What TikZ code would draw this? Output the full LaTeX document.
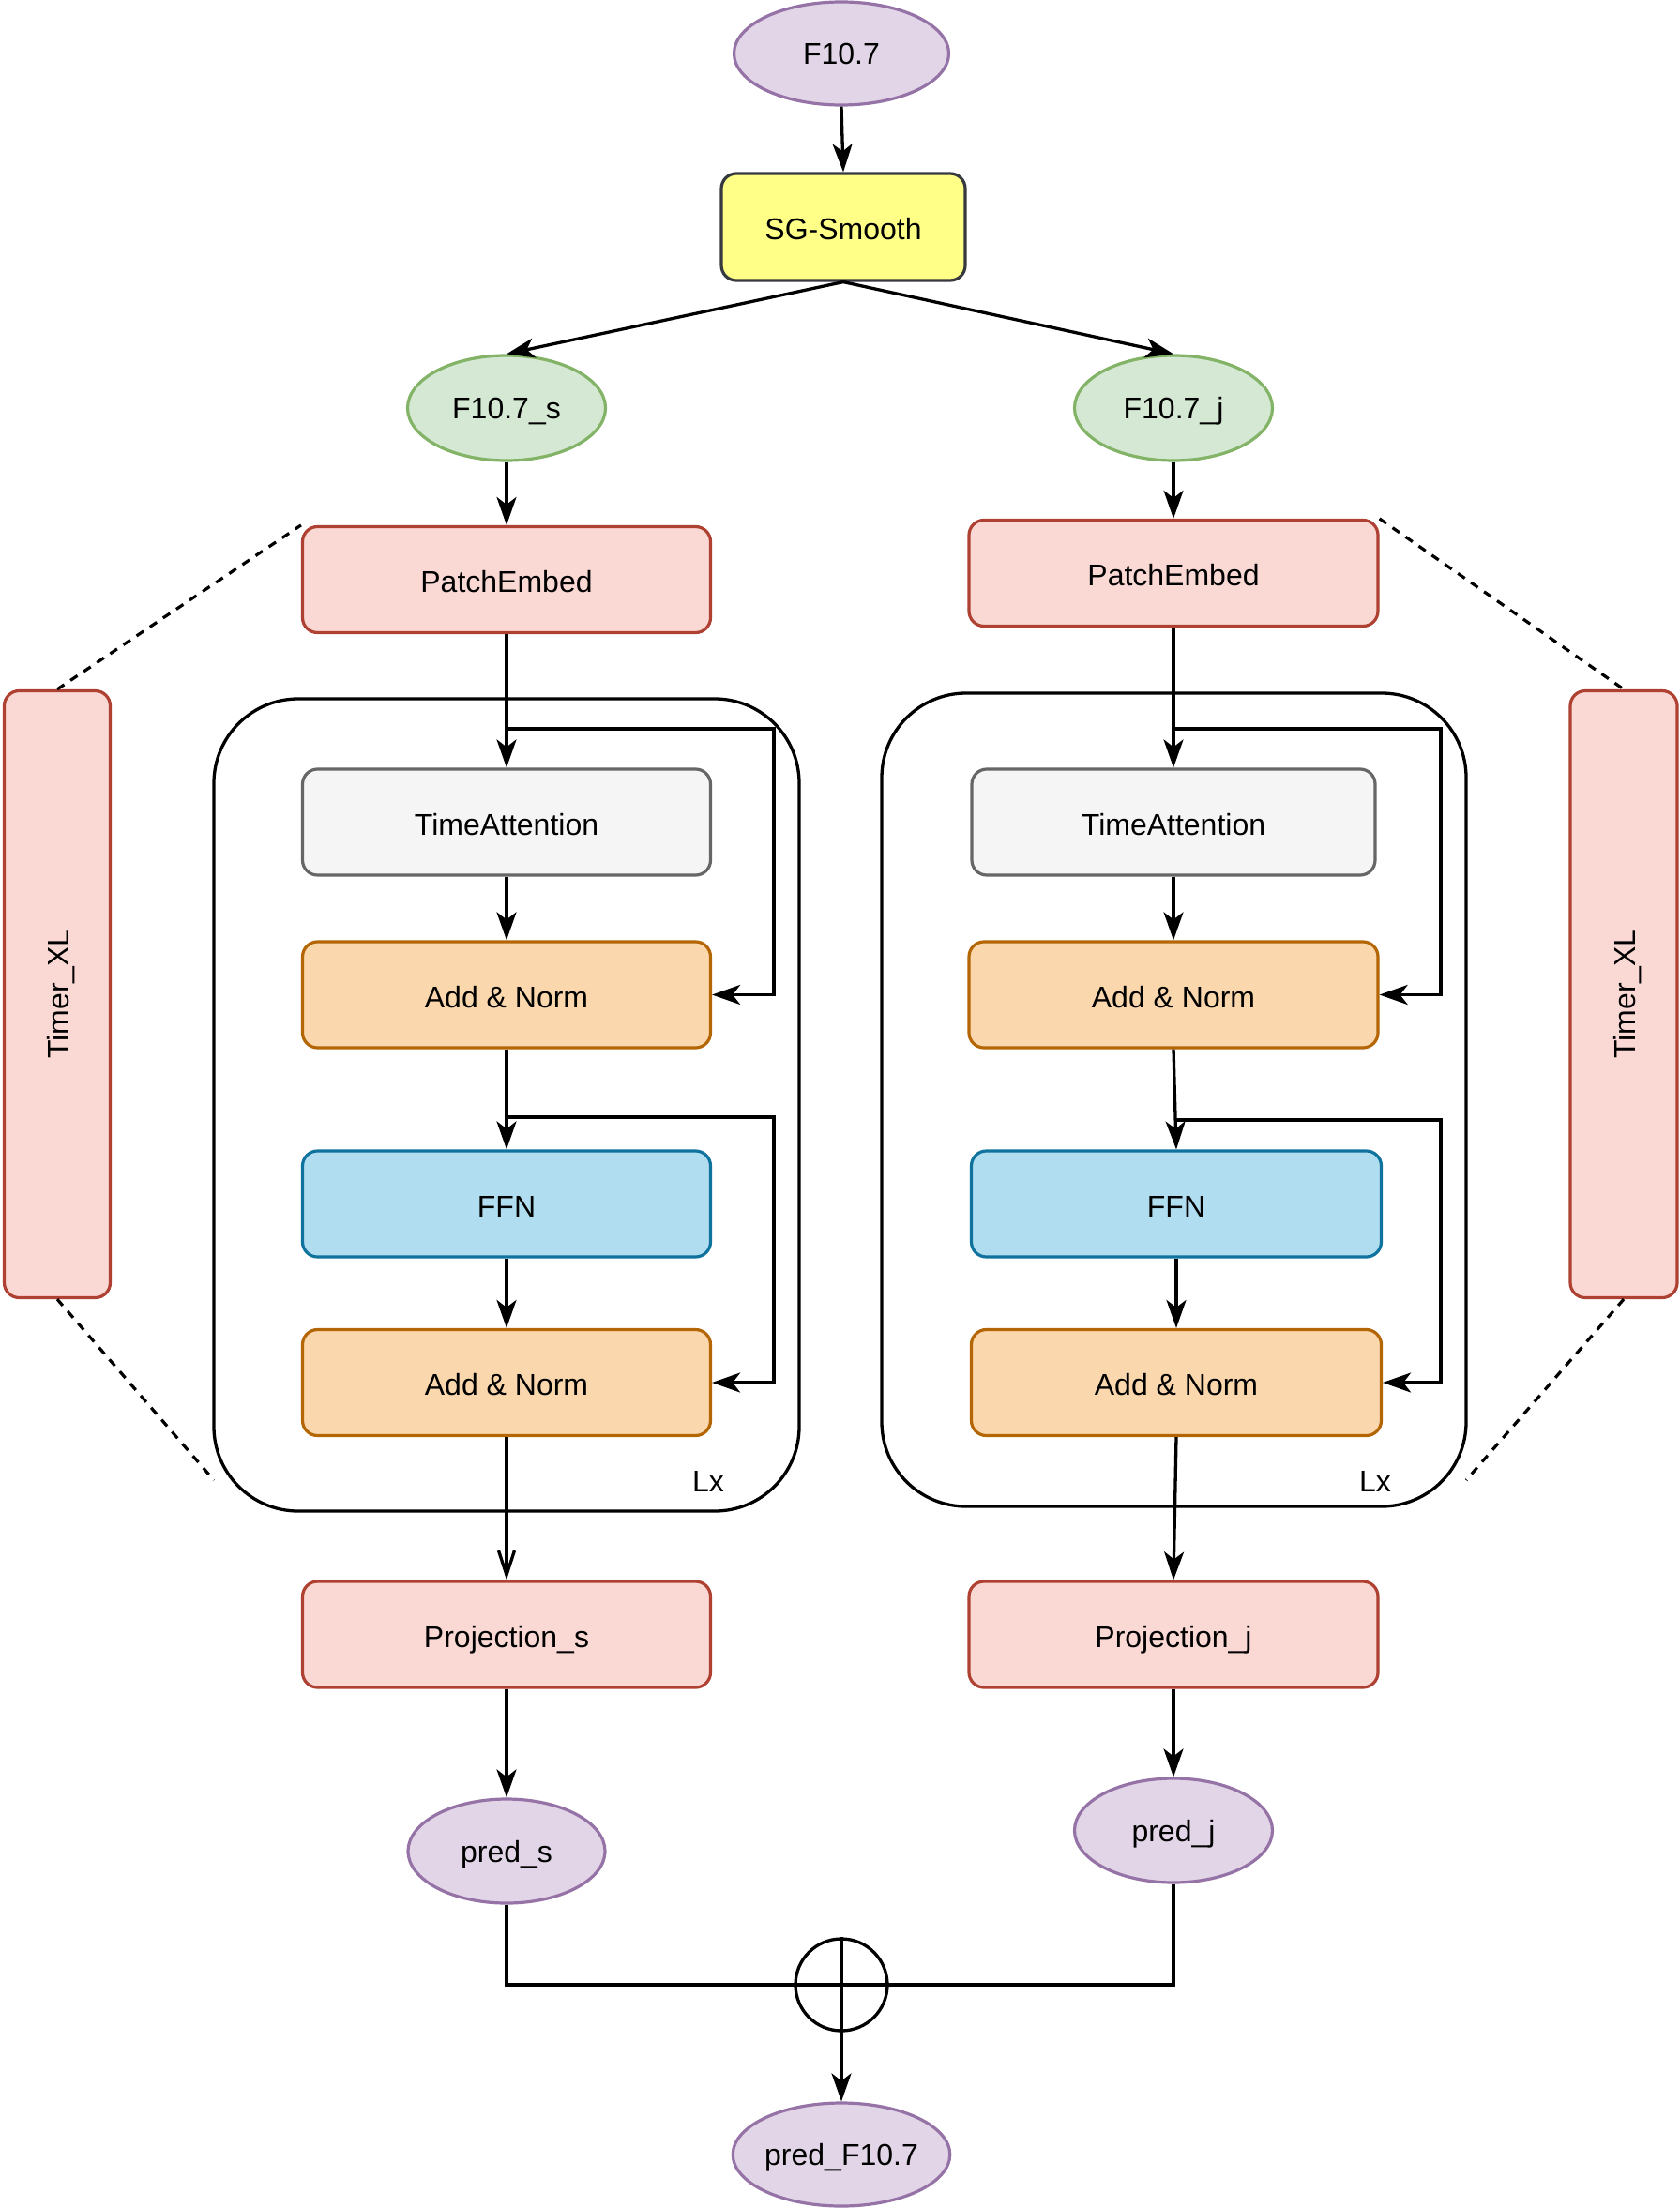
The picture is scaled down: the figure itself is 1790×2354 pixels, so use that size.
\documentclass[tikz,border=0pt]{standalone}
\usepackage{fontspec}
\setmainfont{Liberation Sans}
\usetikzlibrary{arrows.meta,shapes.geometric}
\definecolor{purF}{HTML}{E1D5E7}\definecolor{purS}{HTML}{9673A6}
\definecolor{yelF}{HTML}{FFFF88}\definecolor{yelS}{HTML}{36393D}
\definecolor{grnF}{HTML}{D5E8D4}\definecolor{grnS}{HTML}{82B366}
\definecolor{redF}{HTML}{FAD9D5}\definecolor{redS}{HTML}{AE4132}
\definecolor{gryF}{HTML}{F5F5F5}\definecolor{gryS}{HTML}{666666}
\definecolor{orgF}{HTML}{FAD7AC}\definecolor{orgS}{HTML}{B46504}
\definecolor{bluF}{HTML}{B1DDF0}\definecolor{bluS}{HTML}{10739E}
\tikzset{
  every node/.style={font=\fontsize{16}{19}\selectfont, inner sep=0pt},
  rtxt/.style={text height=16pt, text depth=2.5pt},
  etxt/.style={text height=14.5pt, text depth=3pt},
  ell/.style={ellipse, draw=#1S, fill=#1F, line width=1.6pt, etxt},
  blk/.style={rectangle, rounded corners=8pt, draw=#1S, fill=#1F, line width=1.6pt,
              minimum width=217.5pt, minimum height=56.5pt, rtxt},
  tall/.style={rectangle, rounded corners=8pt, draw=#1S, fill=#1F, line width=1.6pt},
  arr/.style={line width=1.65pt, -{Stealth[length=15pt,width=10.5pt,inset=4pt]}},
  openarr/.style={line width=1.65pt, -{Straight Barb[length=13pt,width=8.5pt]}},
  ln/.style={line width=1.65pt},
  dsh/.style={line width=1.6pt, dash pattern=on 4.5pt off 4pt},
  cont/.style={rectangle, draw=black, line width=1.65pt, rounded corners=45pt}
}
\begin{document}
\begin{tikzpicture}[x=0.5pt,y=-0.5pt]
\useasboundingbox (0,0) rectangle (1790,2354);
% containers
\node[cont, minimum width=312pt, minimum height=433pt] (lxL) at (540,1178) {};
\node[cont, minimum width=311.5pt, minimum height=433.5pt] (lxR) at (1251.5,1172.5) {};
\node[rtxt] (lxLlab) at (755,1577) {Lx};
\node[rtxt] (lxRlab) at (1466,1577) {Lx};
% top
\node[ell=pur, minimum width=114.5pt, minimum height=55pt] (f107) at (897,57) {F10.7};
\node[blk=yel, minimum width=130pt, minimum height=57pt] (sg) at (899,242) {SG-Smooth};
\node[ell=grn, minimum width=105.5pt, minimum height=56pt] (fs) at (540,435) {F10.7\_s};
\node[ell=grn, minimum width=105.5pt, minimum height=56pt] (fj) at (1251,435) {F10.7\_j};
% left column
\node[blk=red] (peL) at (540,618) {PatchEmbed};
\node[blk=gry] (taL) at (540,876.5) {TimeAttention};
\node[blk=org] (an1L) at (540,1060.5) {Add \& Norm};
\node[blk=blu] (ffnL) at (540,1283.5) {FFN};
\node[blk=org] (an2L) at (540,1474) {Add \& Norm};
\node[blk=red] (prS) at (540,1742.5) {Projection\_s};
\node[ell=pur, minimum width=105pt, minimum height=55.5pt] (pdS) at (540,1973.5) {pred\_s};
% right column
\node[blk=red, minimum width=218pt] (peR) at (1251,611) {PatchEmbed};
\node[blk=gry, minimum width=215pt] (taR) at (1251,876.5) {TimeAttention};
\node[blk=org, minimum width=218pt] (an1R) at (1251,1060.5) {Add \& Norm};
\node[blk=blu, minimum width=218.5pt] (ffnR) at (1254,1283.5) {FFN};
\node[blk=org, minimum width=218.5pt] (an2R) at (1254,1474) {Add \& Norm};
\node[blk=red, minimum width=218pt] (prJ) at (1251,1742.5) {Projection\_j};
\node[ell=pur, minimum width=105.5pt, minimum height=55.5pt] (pdJ) at (1251,1951.5) {pred\_j};
% bottom
\node[circle, draw=black, line width=1.65pt, minimum size=49pt] (op) at (897,2116) {};
\node[ell=pur, minimum width=113pt, minimum height=55pt] (pdF) at (897,2297) {pred\_F10.7};
% Timer_XL
\node[tall=red, minimum width=56.5pt, minimum height=323.5pt] (txL) at (61,1060)
  {\rotatebox{90}{\rule[-4pt]{0pt}{20pt}Timer\_XL}};
\node[tall=red, minimum width=57pt, minimum height=323.5pt] (txR) at (1731,1060)
  {\rotatebox{90}{\rule[-4pt]{0pt}{20pt}Timer\_XL}};
% coordinates
\coordinate (s1L) at (540,777);
\coordinate (s2L) at (540,1191);
\coordinate (s1R) at (1251,777);
\coordinate (s2R) at (1252.5,1194);
\coordinate (dL) at (228,1578);
\coordinate (dR) at (1563,1578);
% edges top
\draw[arr] (f107.south) -- (sg.north);
\draw[arr] (sg.south) -- (fs.north);
\draw[arr] (sg.south) -- (fj.north);
\draw[arr] (fs.south) -- (peL.north);
\draw[arr] (fj.south) -- (peR.north);
% left column edges
\draw[arr] (peL.south) -- (taL.north);
\draw[arr] (s1L) -- ++(285,0) |- (an1L.east);
\draw[arr] (taL.south) -- (an1L.north);
\draw[arr] (an1L.south) -- (ffnL.north);
\draw[arr] (s2L) -- ++(285,0) |- (an2L.east);
\draw[arr] (ffnL.south) -- (an2L.north);
\draw[openarr] (an2L.south) -- (prS.north);
\draw[arr] (prS.south) -- (pdS.north);
% right column edges
\draw[arr] (peR.south) -- (taR.north);
\draw[arr] (s1R) -- ++(285,0) |- (an1R.east);
\draw[arr] (taR.south) -- (an1R.north);
\draw[arr] (an1R.south) -- (ffnR.north);
\draw[arr] (s2R) -- ++(283.5,0) |- (an2R.east);
\draw[arr] (ffnR.south) -- (an2R.north);
\draw[arr] (an2R.south) -- (prJ.north);
\draw[arr] (prJ.south) -- (pdJ.north);
% merge
\draw[ln] (pdS.south) |- (op.west);
\draw[ln] (pdJ.south) |- (op.east);
\draw[ln] (op.north) -- (op.south);
\draw[ln] (op.west) -- (op.east);
\draw[arr] (op.south) -- (pdF.north);
% dashed
\draw[dsh] (txL.north) -- (peL.north west);
\draw[dsh] (txL.south) -- (dL);
\draw[dsh] (peR.north east) -- (txR.north);
\draw[dsh] (txR.south) -- (dR);
\end{tikzpicture}
\end{document}
